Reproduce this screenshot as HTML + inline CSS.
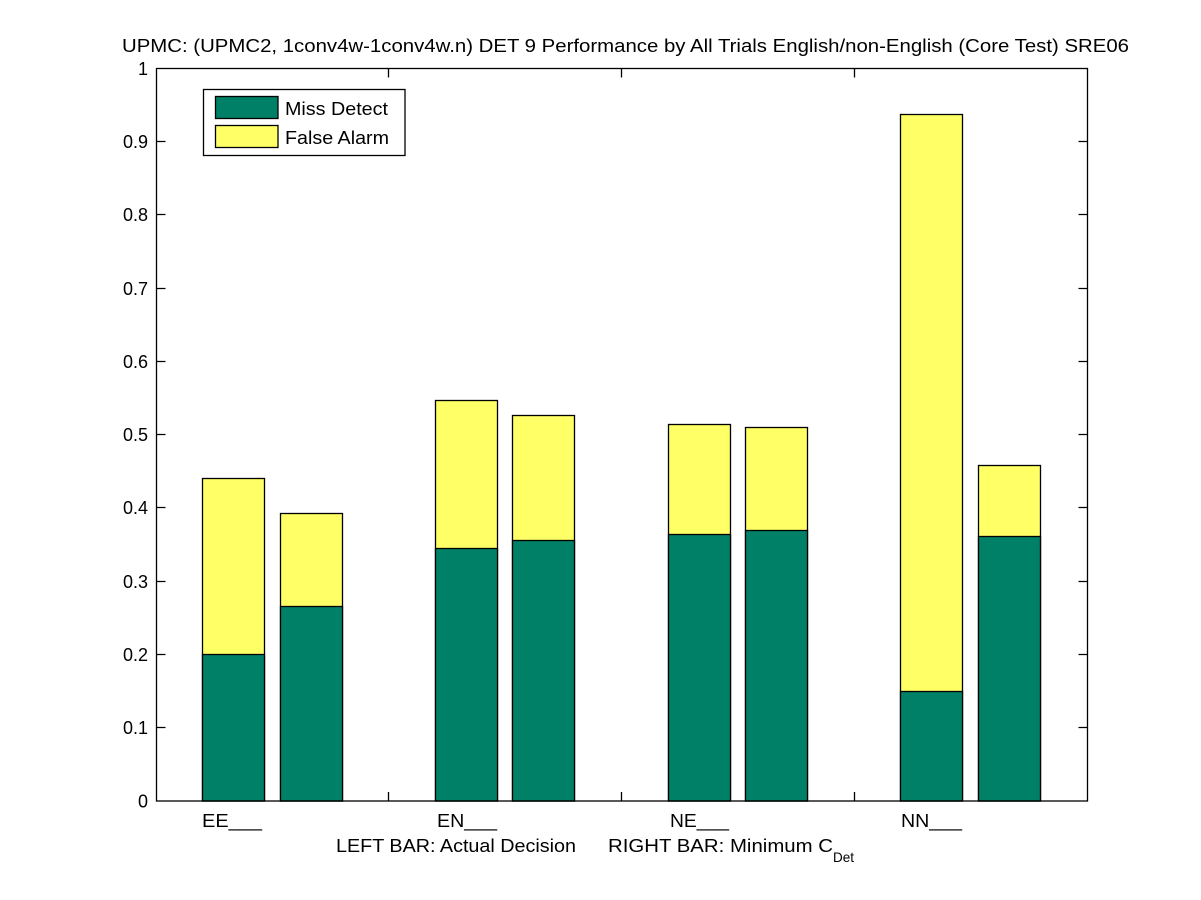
<!DOCTYPE html>
<html><head><meta charset="utf-8"><style>
html,body{margin:0;padding:0;background:#fff;}
svg{display:block;}
text{font-family:"Liberation Sans",Arial,sans-serif;font-size:18px;fill:#000;}
</style></head><body>
<svg width="1201" height="900" viewBox="0 0 1201 900" xmlns="http://www.w3.org/2000/svg">
<rect x="0" y="0" width="1201" height="900" fill="#fff"/>
<g stroke="#000" stroke-width="1.3">
<!-- bars: false alarm (yellow) full, miss (green) -->
<rect x="202.5" y="478.5" width="62" height="322.5" fill="#FFFF66"/>
<rect x="202.5" y="654.5" width="62" height="146.5" fill="#008066"/>
<rect x="280.5" y="513.5" width="62" height="287.5" fill="#FFFF66"/>
<rect x="280.5" y="606.5" width="62" height="194.5" fill="#008066"/>
<rect x="435.5" y="400.5" width="62" height="400.5" fill="#FFFF66"/>
<rect x="435.5" y="548.5" width="62" height="252.5" fill="#008066"/>
<rect x="512.5" y="415.5" width="62" height="385.5" fill="#FFFF66"/>
<rect x="512.5" y="540.5" width="62" height="260.5" fill="#008066"/>
<rect x="668.5" y="424.5" width="62" height="376.5" fill="#FFFF66"/>
<rect x="668.5" y="534.5" width="62" height="266.5" fill="#008066"/>
<rect x="745.5" y="427.5" width="62" height="373.5" fill="#FFFF66"/>
<rect x="745.5" y="530.5" width="62" height="270.5" fill="#008066"/>
<rect x="900.5" y="114.5" width="62" height="686.5" fill="#FFFF66"/>
<rect x="900.5" y="691.5" width="62" height="109.5" fill="#008066"/>
<rect x="978.5" y="465.5" width="62" height="335.5" fill="#FFFF66"/>
<rect x="978.5" y="536.5" width="62" height="264.5" fill="#008066"/>
</g>
<g stroke="#000" stroke-width="1.3" fill="none">
<rect x="156.5" y="68.5" width="931" height="732.5"/>
<!-- y ticks left & right -->
<path d="M156.5 727.5h9M156.5 654.5h9M156.5 581.5h9M156.5 507.5h9M156.5 434.5h9M156.5 361.5h9M156.5 288.5h9M156.5 214.5h9M156.5 141.5h9
M1087.5 727.5h-9M1087.5 654.5h-9M1087.5 581.5h-9M1087.5 507.5h-9M1087.5 434.5h-9M1087.5 361.5h-9M1087.5 288.5h-9M1087.5 214.5h-9M1087.5 141.5h-9"/>
<!-- x ticks bottom & top -->
<path d="M388.5 801v-9M621.5 801v-9M854.5 801v-9M388.5 68.5v9M621.5 68.5v9M854.5 68.5v9"/>
</g>
<!-- y tick labels -->
<g text-anchor="end">
<text x="148" y="807.5">0</text>
<text x="148" y="734">0.1</text>
<text x="148" y="661">0.2</text>
<text x="148" y="588">0.3</text>
<text x="148" y="514">0.4</text>
<text x="148" y="441">0.5</text>
<text x="148" y="368">0.6</text>
<text x="148" y="295">0.7</text>
<text x="148" y="221">0.8</text>
<text x="148" y="148">0.9</text>
<text x="148" y="75">1</text>
</g>
<!-- x tick labels -->
<text x="202" y="827" textLength="60" lengthAdjust="spacingAndGlyphs">EE___</text>
<text x="437" y="827" textLength="60" lengthAdjust="spacingAndGlyphs">EN___</text>
<text x="670" y="827" textLength="59" lengthAdjust="spacingAndGlyphs">NE___</text>
<text x="901" y="827" textLength="61" lengthAdjust="spacingAndGlyphs">NN___</text>
<!-- x label -->
<text x="336" y="852" textLength="240" lengthAdjust="spacingAndGlyphs">LEFT BAR: Actual Decision</text>
<text x="608" y="852" textLength="225" lengthAdjust="spacingAndGlyphs">RIGHT BAR: Minimum C</text>
<text x="833" y="862" style="font-size:14px" textLength="21" lengthAdjust="spacingAndGlyphs">Det</text>
<!-- title -->
<text x="122" y="52" textLength="1007" lengthAdjust="spacingAndGlyphs">UPMC: (UPMC2, 1conv4w-1conv4w.n) DET 9 Performance by All Trials English/non-English (Core Test) SRE06</text>
<!-- legend -->
<rect x="203.5" y="89.5" width="201.5" height="66" fill="#fff" stroke="#000" stroke-width="1.3"/>
<rect x="215.5" y="96.5" width="62.5" height="22" fill="#008066" stroke="#000" stroke-width="1.3"/>
<rect x="215.5" y="125.5" width="62.5" height="22" fill="#FFFF66" stroke="#000" stroke-width="1.3"/>
<text x="285" y="115" textLength="103" lengthAdjust="spacingAndGlyphs">Miss Detect</text>
<text x="285" y="144" textLength="104" lengthAdjust="spacingAndGlyphs">False Alarm</text>
</svg>
</body></html>
